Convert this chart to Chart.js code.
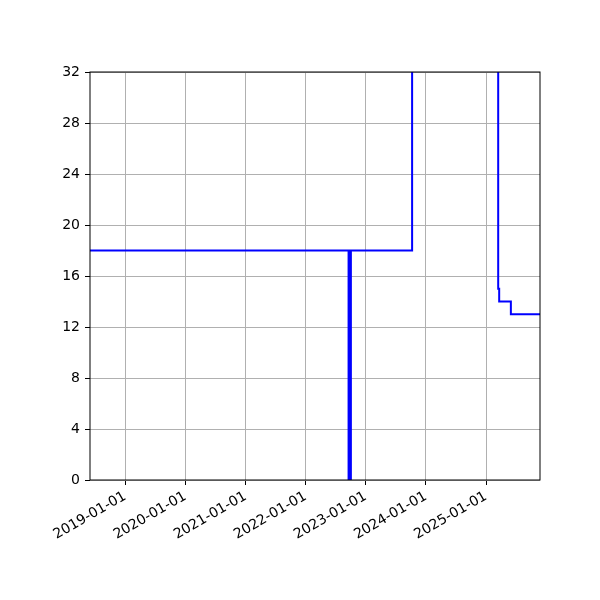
<!DOCTYPE html>
<html>
<head>
<meta charset="utf-8">
<script src="https://cdn.jsdelivr.net/npm/chart.js@4/dist/chart.umd.min.js"></script>
<style>
  body { margin: 0; background: #fff; }
  #wrap { width: 600px; height: 600px; }
</style>
</head>
<body>
<div id="wrap"><canvas id="stepChart" width="600" height="600"></canvas></div>
<script>
// 日付と値（ステップ表示）
const dates = [
  '2018-06-01', '2022-09-19', '2022-09-21', '2022-09-23', '2022-09-25',
  '2022-09-27', '2022-09-29', '2022-10-01', '2022-10-03', '2023-10-10',
  '2025-03-16', '2025-03-22', '2025-06-01', '2025-11-25'
];
const values = [18, 0, 18, 0, 18, 0, 18, 0, 18, 40, 15, 14, 13, 13];

const xTickDates = ['2019-01-01', '2020-01-01', '2021-01-01', '2022-01-01',
  '2023-01-01', '2024-01-01', '2025-01-01'];
const yTicks = [0, 4, 8, 12, 16, 20, 24, 28, 32];
const xRange = ['2018-06-01', '2025-11-25'];

const toMs = s => Date.parse(s + 'T00:00:00Z');
const points = dates.map((d, i) => ({ x: toMs(d), y: values[i] }));

// 枠線（上と右も）
const frame = {
  id: 'frame',
  afterDatasetsDraw(chart) {
    const { ctx, chartArea: a } = chart;
    ctx.save();
    ctx.strokeStyle = '#000';
    ctx.lineWidth = 1;
    ctx.strokeRect(a.left, a.top, a.right - a.left, a.bottom - a.top);
    ctx.restore();
  }
};

const ctx = document.getElementById('stepChart').getContext('2d');
const stepChart = new Chart(ctx, {
  type: 'line',
  data: {
    datasets: [{
      data: points,
      borderColor: '#0000ff',
      borderWidth: 2,
      pointRadius: 0,
      stepped: 'before',
      fill: false
    }]
  },
  options: {
    responsive: false,
    animation: false,
    devicePixelRatio: 1,
    layout: { padding: { top: 72, right: 60, left: 0, bottom: 0 } },
    plugins: { legend: { display: false }, tooltip: { enabled: false } },
    scales: {
      x: {
        type: 'linear',
        min: toMs(xRange[0]),
        max: toMs(xRange[1]),
        afterBuildTicks: s => { s.ticks = xTickDates.map(d => ({ value: toMs(d) })); },
        afterFit: s => { s.height = 120; },
        grid: { color: '#b0b0b0', lineWidth: 1, tickColor: '#000', tickLength: 5 },
        border: { display: false },
        ticks: {
          color: '#000',
          font: { family: 'DejaVu Sans', size: 14 },
          minRotation: 30,
          maxRotation: 30,
          padding: 3,
          callback: v => new Date(v).toISOString().slice(0, 10)
        }
      },
      y: {
        min: 0,
        max: 32,
        afterBuildTicks: s => { s.ticks = yTicks.map(v => ({ value: v })); },
        afterFit: s => { s.width = 90; },
        grid: { color: '#b0b0b0', lineWidth: 1, tickColor: '#000', tickLength: 5 },
        border: { display: false },
        ticks: {
          color: '#000',
          font: { family: 'DejaVu Sans', size: 14 },
          padding: 5
        }
      }
    }
  },
  plugins: [frame]
});
</script>
</body>
</html>
